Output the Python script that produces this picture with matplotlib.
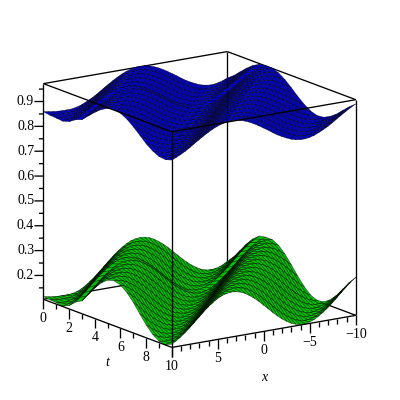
import numpy as np
import matplotlib
matplotlib.use("Agg")
import matplotlib.pyplot as plt
from matplotlib.colors import LightSource
from mpl_toolkits.mplot3d import proj3d

x_values = [10 - 0.5 * i for i in range(41)]
t_values = [0.5 * i for i in range(21)]

# surface heights, in thousandths; one row per t, one column per x
green_milli = [
 [115,111,108,106,105,105,106,110,117,128,141,156,173,191,209,227,243,257,269,278,283,285,283,278,269,257,243,227,209,191,173,156,141,128,117,110,106,106,110,117,128],
 [112,108,106,106,106,110,117,128,141,156,173,191,209,227,243,257,269,278,283,285,283,278,269,257,243,227,209,191,173,156,141,128,117,110,106,106,110,117,128,141,156],
 [110,106,106,110,117,128,141,156,173,191,209,227,243,257,269,278,283,285,283,278,269,257,243,227,209,191,173,156,141,128,117,110,106,106,110,117,128,141,156,173,191],
 [106,110,117,128,141,156,173,191,209,227,243,257,269,278,283,285,283,278,269,257,243,227,209,191,173,156,141,128,117,110,106,106,110,117,128,141,156,173,191,209,227],
 [117,128,141,156,173,191,209,227,243,257,269,278,283,285,283,278,269,257,243,227,209,191,173,156,141,128,117,110,106,106,110,117,128,141,156,173,191,209,227,243,257],
 [141,156,173,191,209,227,243,257,269,278,283,285,283,278,269,257,243,227,209,191,173,156,141,128,117,110,106,106,110,117,128,141,156,173,191,209,227,243,257,269,278],
 [156,173,191,209,227,243,257,269,278,283,285,283,278,269,257,243,227,209,191,173,156,141,128,117,110,106,106,110,117,128,141,156,173,191,209,227,243,257,269,278,283],
 [191,209,227,243,257,269,278,283,285,283,278,269,257,243,227,209,191,173,156,141,128,117,110,106,106,110,117,128,141,156,173,191,209,227,243,257,269,278,283,285,283],
 [227,243,257,269,278,283,285,283,278,269,257,243,227,209,191,173,156,141,128,117,110,106,106,110,117,128,141,156,173,191,209,227,243,257,269,278,283,285,283,278,269],
 [257,269,278,283,285,283,278,269,257,243,227,209,191,173,156,141,128,117,110,106,106,110,117,128,141,156,173,191,209,227,243,257,269,278,283,285,283,278,269,257,243],
 [278,283,285,283,278,269,257,243,227,209,191,173,156,141,128,117,110,106,106,110,117,128,141,156,173,191,209,227,243,257,269,278,283,285,283,278,269,257,243,227,209],
 [285,283,278,269,257,243,227,209,191,173,156,141,128,117,110,106,106,110,117,128,141,156,173,191,209,227,243,257,269,278,283,285,283,278,269,257,243,227,209,191,173],
 [278,269,257,243,227,209,191,173,156,141,128,117,110,106,106,110,117,128,141,156,173,191,209,227,243,257,269,278,283,285,283,278,269,257,243,227,209,191,173,156,141],
 [257,243,227,209,191,173,156,141,128,117,110,106,106,110,117,128,141,156,173,191,209,227,243,257,269,278,283,285,283,278,269,257,243,227,209,191,173,156,141,128,117],
 [227,209,191,173,156,141,128,117,110,106,106,110,117,128,141,156,173,191,209,227,243,257,269,278,283,285,283,278,269,257,243,227,209,191,173,156,141,128,117,110,106],
 [191,173,156,141,128,117,110,106,106,110,117,128,141,156,173,191,209,227,243,257,269,278,283,285,283,278,269,257,243,227,209,191,173,156,141,128,117,110,106,106,110],
 [156,141,128,117,110,106,106,110,117,128,141,156,173,191,209,227,243,257,269,278,283,285,283,278,269,257,243,227,209,191,173,156,141,128,117,110,106,106,110,117,128],
 [128,117,110,106,106,110,117,128,141,156,173,191,209,227,243,257,269,278,283,285,283,278,269,257,243,227,209,191,173,156,141,128,117,110,106,106,110,117,128,141,156],
 [110,106,106,110,117,128,141,156,173,191,209,227,243,257,269,278,283,285,283,278,269,257,243,227,209,191,173,156,141,128,117,110,106,106,110,117,128,141,156,173,191],
 [106,110,117,128,141,156,173,191,209,227,243,257,269,278,283,285,283,278,269,257,243,227,209,191,173,156,141,128,117,110,106,106,110,117,128,141,156,173,191,209,227],
 [117,128,141,156,173,191,209,227,243,257,269,278,283,285,283,278,269,257,243,227,209,191,173,156,141,128,117,110,106,106,110,117,128,141,156,173,191,209,227,243,257],
]
blue_milli = [
 [859,856,853,851,850,850,850,853,858,866,875,885,897,910,922,934,945,955,963,969,973,974,973,969,963,955,945,934,922,910,897,885,875,866,858,853,850,850,853,858,866],
 [855,852,851,850,850,853,858,866,875,885,897,910,922,934,945,955,963,969,973,974,973,969,963,955,945,934,922,910,897,885,875,866,858,853,850,850,853,858,866,875,885],
 [853,850,850,853,858,866,875,885,897,910,922,934,945,955,963,969,973,974,973,969,963,955,945,934,922,910,897,885,875,866,858,853,850,850,853,858,866,875,885,897,910],
 [850,853,858,866,875,885,897,910,922,934,945,955,963,969,973,974,973,969,963,955,945,934,922,910,897,885,875,866,858,853,850,850,853,858,866,875,885,897,910,922,934],
 [858,866,875,885,897,910,922,934,945,955,963,969,973,974,973,969,963,955,945,934,922,910,897,885,875,866,858,853,850,850,853,858,866,875,885,897,910,922,934,945,955],
 [875,885,897,910,922,934,945,955,963,969,973,974,973,969,963,955,945,934,922,910,897,885,875,866,858,853,850,850,853,858,866,875,885,897,910,922,934,945,955,963,969],
 [885,897,910,922,934,945,955,963,969,973,974,973,969,963,955,945,934,922,910,897,885,875,866,858,853,850,850,853,858,866,875,885,897,910,922,934,945,955,963,969,973],
 [910,922,934,945,955,963,969,973,974,973,969,963,955,945,934,922,910,897,885,875,866,858,853,850,850,853,858,866,875,885,897,910,922,934,945,955,963,969,973,974,973],
 [934,945,955,963,969,973,974,973,969,963,955,945,934,922,910,897,885,875,866,858,853,850,850,853,858,866,875,885,897,910,922,934,945,955,963,969,973,974,973,969,963],
 [955,963,969,973,974,973,969,963,955,945,934,922,910,897,885,875,866,858,853,850,850,853,858,866,875,885,897,910,922,934,945,955,963,969,973,974,973,969,963,955,945],
 [969,973,974,973,969,963,955,945,934,922,910,897,885,875,866,858,853,850,850,853,858,866,875,885,897,910,922,934,945,955,963,969,973,974,973,969,963,955,945,934,922],
 [974,973,969,963,955,945,934,922,910,897,885,875,866,858,853,850,850,853,858,866,875,885,897,910,922,934,945,955,963,969,973,974,973,969,963,955,945,934,922,910,897],
 [969,963,955,945,934,922,910,897,885,875,866,858,853,850,850,853,858,866,875,885,897,910,922,934,945,955,963,969,973,974,973,969,963,955,945,934,922,910,897,885,875],
 [955,945,934,922,910,897,885,875,866,858,853,850,850,853,858,866,875,885,897,910,922,934,945,955,963,969,973,974,973,969,963,955,945,934,922,910,897,885,875,866,858],
 [934,922,910,897,885,875,866,858,853,850,850,853,858,866,875,885,897,910,922,934,945,955,963,969,973,974,973,969,963,955,945,934,922,910,897,885,875,866,858,853,850],
 [910,897,885,875,866,858,853,850,850,853,858,866,875,885,897,910,922,934,945,955,963,969,973,974,973,969,963,955,945,934,922,910,897,885,875,866,858,853,850,850,853],
 [885,875,866,858,853,850,850,853,858,866,875,885,897,910,922,934,945,955,963,969,973,974,973,969,963,955,945,934,922,910,897,885,875,866,858,853,850,850,853,858,866],
 [866,858,853,850,850,853,858,866,875,885,897,910,922,934,945,955,963,969,973,974,973,969,963,955,945,934,922,910,897,885,875,866,858,853,850,850,853,858,866,875,885],
 [853,850,850,853,858,866,875,885,897,910,922,934,945,955,963,969,973,974,973,969,963,955,945,934,922,910,897,885,875,866,858,853,850,850,853,858,866,875,885,897,910],
 [850,853,858,866,875,885,897,910,922,934,945,955,963,969,973,974,973,969,963,955,945,934,922,910,897,885,875,866,858,853,850,850,853,858,866,875,885,897,910,922,934],
 [858,866,875,885,897,910,922,934,945,955,963,969,973,974,973,969,963,955,945,934,922,910,897,885,875,866,858,853,850,850,853,858,866,875,885,897,910,922,934,945,955],
]

t_major = [0, 2, 4, 6, 8, 10]
t_minor = [1, 3, 5, 7, 9]
x_major = [10, 5, 0, -5, -10]
x_minor = [9, 8, 7, 6, 4, 3, 2, 1, -1, -2, -3, -4, -6, -7, -8, -9]
z_major = [0.2, 0.3, 0.4, 0.5, 0.6, 0.7, 0.8, 0.9]
z_minor = [0.15, 0.25, 0.35, 0.45, 0.55, 0.65, 0.75, 0.85, 0.95]
z_low, z_high = 0.104, 0.972

plt.rcParams["font.family"] = ["Liberation Serif", "DejaVu Serif"]
fig = plt.figure(figsize=(4, 4), dpi=100, facecolor="white")
ax = fig.add_axes([-5.8 / 400, -4.9 / 400, 1, 1], projection="3d", proj_type="ortho")
ax.computed_zorder = False
ax.set_box_aspect((1.024, 1, 1.002), zoom=0.944)
ax.view_init(elev=14.8, azim=-34.3)
ax.set_xlim(0, 10)
ax.set_ylim(10, -10)
ax.set_zlim(z_low, z_high)
ax.set_axis_off()

T, X = np.meshgrid(t_values, x_values, indexing="ij")
light = LightSource(azdeg=250, altdeg=40)
style = dict(rstride=1, cstride=1, shade=True, lightsource=light,
             edgecolor=(0, 0, 0, 0.7), linewidth=0.4, antialiased=True)
ax.plot_surface(T, X, np.array(blue_milli) / 1000, color="#0000f0", zorder=3, **style)
ax.plot_surface(T, X, np.array(green_milli) / 1000, color="#00e400", zorder=3, **style)

t0, t1 = t_values[0], t_values[-1]
x0, x1 = x_values[0], x_values[-1]
line = dict(color="black", lw=0.95, solid_capstyle="butt")


def seg(a, b, order):
    ax.plot([a[0], b[0]], [a[1], b[1]], [a[2], b[2]], zorder=order, **line)


def label(t, x, z, s, **kw):
    px, py, _ = proj3d.proj_transform(t, x, z, ax.get_proj())
    ax.text2D(px, py, s, transform=ax.transData, fontsize=10, zorder=6, **kw)


# edges behind the surfaces
for z in (z_low, z_high):
    seg((t0, x0, z), (t0, x1, z), 1)
    seg((t0, x1, z), (t1, x1, z), 1)
seg((t0, x1, z_low), (t0, x1, z_high), 1)
# edges in front of the surfaces
for z in (z_low, z_high):
    seg((t0, x0, z), (t1, x0, z), 5)
    seg((t1, x0, z), (t1, x1, z), 5)
for corner in ((t0, x0), (t1, x0), (t1, x1)):
    seg((corner[0], corner[1], z_low), (corner[0], corner[1], z_high), 5)

major_len = 0.040
minor_len = 0.020
label_gap = 0.078
for t in t_major + t_minor:
    seg((t, x0, z_low), (t, x0, z_low - (major_len if t in t_major else minor_len)), 5)
for x in x_major + x_minor:
    seg((t1, x, z_low), (t1, x, z_low - (major_len if x in x_major else minor_len)), 5)

# z ticks point straight left on the screen
left_t, left_x = -0.2225, 0.667
for z in z_major + z_minor:
    f = 1.0 if z in z_major else 0.5
    seg((t0, x0, z), (t0 + left_t * f, x0 + left_x * f, z), 5)
    if z in z_major:
        label(t0 + left_t * 1.02, x0 + left_x * 1.02, z, f"{z:.1f}", ha="right", va="center")

for t in t_major:
    label(t, x0, z_low - label_gap, str(t), ha="center", va="center")
for x in x_major[1:]:
    label(t1, x, z_low - label_gap, str(x).replace("-", "\u2212"), ha="center", va="center")

label(5, x0, z_low - 0.158, "t", style="italic", ha="center", va="center")
label(t1, 0, z_low - 0.185, "x", style="italic", ha="center", va="center")

fig.savefig("out.png", dpi=100)
